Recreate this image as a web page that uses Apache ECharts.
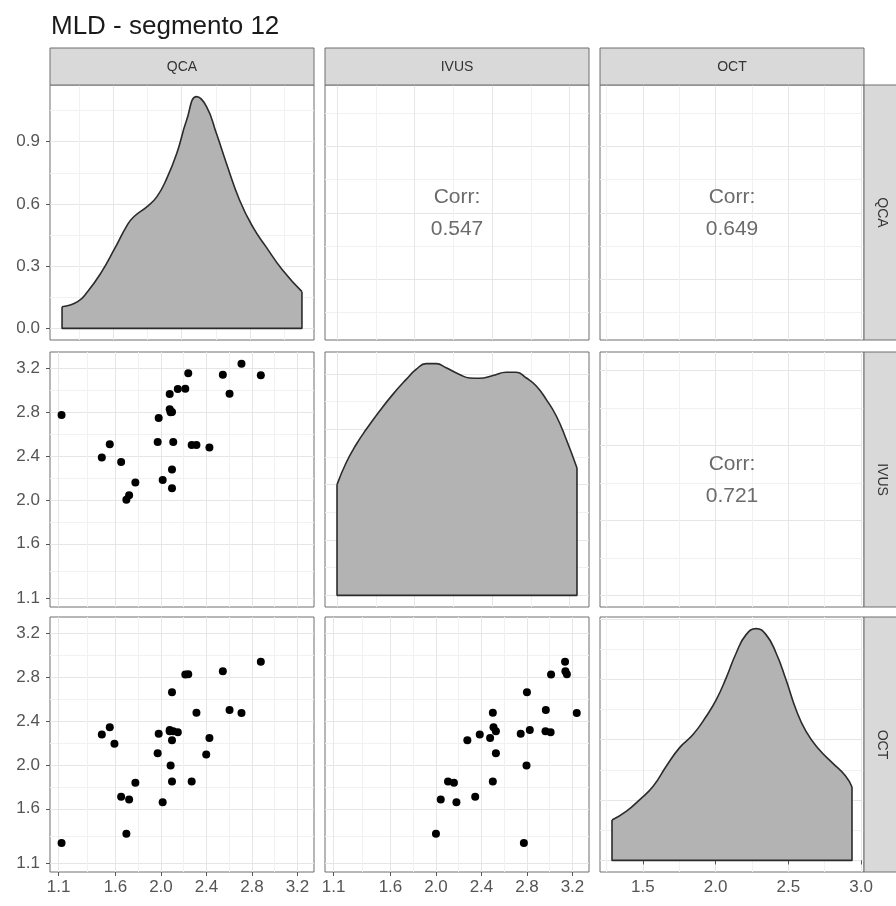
<!DOCTYPE html>
<html>
<head>
<meta charset="utf-8">
<title>MLD - segmento 12</title>
<script src="https://cdn.jsdelivr.net/npm/echarts@6/dist/echarts.min.js"></script>
<style>
html, body { margin: 0; padding: 0; background: #fff; }
#chart { width: 896px; height: 906px; }
</style>
</head>
<body>
<div id="chart"></div>
<script>
// MLD segmento 12 - ggpairs style matrix (QCA / IVUS / OCT)
const varNames = ['QCA', 'IVUS', 'OCT'];

// one entry per lesion, null = missing
const QCA  = [1.126, 1.696, 2.015, 1.720, 1.650, 1.775, 2.097, 2.270, 2.085, 2.398, 1.971, 1.591, 2.097, 2.426, 1.480,
              1.980, 2.148, 2.108, 2.077, 2.077, 1.550, 2.708, 2.312, 2.603, 2.097, 2.214, 2.240, 2.544, 2.878];
const IVUS = [2.773, 2.000, 2.180, 2.042, 2.345, 2.158, 2.106, 2.500, 2.796, null, 2.527, null, 2.276, 2.476, 2.385,
              2.745, 3.008, 2.527, 2.963, 2.825, 2.506, 3.238, 2.500, 2.966, 2.800, 3.012, 3.151, 3.138, 3.135];
const OCT  = [1.288, 1.373, 1.659, 1.684, 1.709, 1.836, 1.848, 1.848, 1.993, 2.094, 2.106, 2.191, 2.224, 2.245, 2.275,
              2.282, 2.297, 2.306, 2.306, 2.318, 2.342, 2.471, 2.473, 2.500, 2.661, 2.821, 2.824, 2.852, 2.938];

// density curves on the diagonal
const qcaDensX = [1.126, 1.240, 1.312, 1.408, 1.505, 1.602, 1.650, 1.747, 1.819, 1.891, 1.964,
                  2.036, 2.109, 2.181, 2.253, 2.326, 2.422, 2.518, 2.615, 2.736, 2.878];
const qcaDensY = [0.104, 0.129, 0.177, 0.265, 0.378, 0.498, 0.538, 0.587, 0.635, 0.723, 0.844,
                  1.004, 1.117, 1.069, 0.940, 0.796, 0.619, 0.490, 0.394, 0.281, 0.177];
const ivusDensX = [2.000, 2.047, 2.098, 2.150, 2.219, 2.288, 2.357, 2.408, 2.460, 2.512, 2.563, 2.632,
                   2.684, 2.735, 2.805, 2.873, 2.925, 2.977, 3.028, 3.080, 3.132, 3.183, 3.238];
const ivusDensY = [0.400, 0.479, 0.544, 0.599, 0.665, 0.726, 0.780, 0.816, 0.837, 0.837, 0.822, 0.798,
                   0.785, 0.784, 0.794, 0.806, 0.806, 0.785, 0.756, 0.707, 0.647, 0.563, 0.460];
const octDensX = [1.288, 1.388, 1.479, 1.571, 1.662, 1.753, 1.845, 1.936, 2.005, 2.073, 2.142,
                  2.210, 2.279, 2.347, 2.416, 2.484, 2.553, 2.621, 2.712, 2.803, 2.895, 2.938];
const octDensY = [0.167, 0.204, 0.252, 0.307, 0.391, 0.467, 0.521, 0.597, 0.666, 0.756, 0.859,
                  0.935, 0.960, 0.935, 0.859, 0.749, 0.625, 0.535, 0.459, 0.404, 0.349, 0.304];

// correlations in the upper triangle
const corrQcaIvus = '0.547';
const corrQcaOct  = '0.649';
const corrIvusOct = '0.721';

// tick / grid values
const scatterTicks = [1.1, 1.6, 2.0, 2.4, 2.8, 3.2];
const scatterMinor = [1.35, 1.8, 2.2, 2.6, 3.0];
const qcaTicks = [1.5, 2.0, 2.5];
const qcaMinor = [1.25, 1.75, 2.25, 2.75];
const ivusTicks = [2.0, 2.4, 2.8, 3.2];
const ivusMinor = [2.2, 2.6, 3.0];
const octTicks = [1.5, 2.0, 2.5, 3.0];
const octMinor = [1.25, 1.75, 2.25, 2.75];
const qcaDensTicks = [0.0, 0.3, 0.6, 0.9];
const qcaDensMinor = [0.15, 0.45, 0.75, 1.05];
const ivusDensTicks = [0.0, 0.2, 0.4, 0.6, 0.8];
const ivusDensMinor = [0.1, 0.3, 0.5, 0.7];
const octDensTicks = [0.0, 0.25, 0.5, 0.75, 1.0];
const octDensMinor = [0.125, 0.375, 0.625, 0.875];

// scale ranges (ggplot 5% expansion)
const scatRange = [1.0245, 3.3455];
const qcaRange = [1.038, 2.966];
const ivusRange = [1.938, 3.300];
const octRange = [1.2055, 3.0205];
const qcaDensRange = [-0.056, 1.173];
const ivusDensRange = [-0.042, 0.879];
const octDensRange = [-0.048, 1.008];

// layout
const colLeft = [50, 325, 600];
const colW = 264;
const rowTop = [85, 352, 617];
const rowH = 255;
const fontFam = '"Liberation Sans", Arial, Helvetica, sans-serif';

const sc = { range: scatRange, major: scatterTicks, minor: scatterMinor };
const qc = { range: qcaRange, major: qcaTicks, minor: qcaMinor };
const iv = { range: ivusRange, major: ivusTicks, minor: ivusMinor };
const oc = { range: octRange, major: octTicks, minor: octMinor };
const qd = { range: qcaDensRange, major: qcaDensTicks, minor: qcaDensMinor };
const idn = { range: ivusDensRange, major: ivusDensTicks, minor: ivusDensMinor };
const od = { range: octDensRange, major: octDensTicks, minor: octDensMinor };

// [row][col] -> x scale, y scale
const panels = [
  [{ x: qc, y: qd }, { x: iv, y: qc }, { x: oc, y: qc }],
  [{ x: sc, y: sc }, { x: iv, y: idn }, { x: oc, y: iv }],
  [{ x: sc, y: sc }, { x: sc, y: sc }, { x: oc, y: od }]
];

const grids = [], xAxes = [], yAxes = [], series = [], graphics = [];

function makeAxes(g, s, showLab, isX) {
  const base = { gridIndex: g, type: 'value', min: s.range[0], max: s.range[1], axisLine: { show: false } };
  const major = Object.assign({}, base, {
    position: isX ? 'bottom' : 'left',
    axisTick: { show: showLab, length: 4, customValues: s.major, lineStyle: { color: '#555' } },
    axisLabel: {
      show: showLab, customValues: s.major, formatter: v => v.toFixed(1),
      color: '#555', fontSize: 17, fontFamily: fontFam, margin: isX ? 7 : 10
    },
    splitLine: { show: true, lineStyle: { color: '#e6e6e6', width: 1 } }
  });
  const minor = Object.assign({}, base, {
    position: isX ? 'top' : 'right',
    axisTick: { show: false, customValues: s.minor },
    axisLabel: { show: false },
    splitLine: { show: true, lineStyle: { color: '#f1f1f1', width: 1 } }
  });
  return [major, minor];
}

for (let r = 0; r < 3; r++) {
  for (let c = 0; c < 3; c++) {
    const g = r * 3 + c;
    grids.push({
      left: colLeft[c], top: rowTop[r], width: colW, height: rowH,
      show: true, backgroundColor: '#fff', borderColor: '#6e6e6e', borderWidth: 1,
      containLabel: false, outerBoundsMode: 'none'
    });
    xAxes.push(...makeAxes(g, panels[r][c].x, r === 2, true));
    yAxes.push(...makeAxes(g, panels[r][c].y, c === 0, false));
  }
}

function densSeries(g, xs, ys) {
  const pts = xs.map((x, i) => [x, ys[i]]);
  const n = xs.length - 1;
  series.push({
    type: 'line', xAxisIndex: 2 * g, yAxisIndex: 2 * g, data: pts,
    smooth: 0.5, symbol: 'none', silent: true,
    lineStyle: { color: '#2b2b2b', width: 1.6 },
    areaStyle: { color: '#b3b3b3', opacity: 1 }
  });
  // closed outline: right edge, baseline, left edge
  series.push({
    type: 'line', xAxisIndex: 2 * g, yAxisIndex: 2 * g, symbol: 'none', silent: true,
    data: [[xs[n], ys[n]], [xs[n], 0], [xs[0], 0], [xs[0], ys[0]]],
    lineStyle: { color: '#2b2b2b', width: 1.6 }
  });
}

function scatterSeries(g, xs, ys) {
  const pts = xs.map((x, i) => [x, ys[i]]).filter(p => p[0] != null && p[1] != null);
  series.push({
    type: 'scatter', xAxisIndex: 2 * g, yAxisIndex: 2 * g, data: pts,
    symbolSize: 8, silent: true, itemStyle: { color: '#000', opacity: 1 }
  });
}

densSeries(0, qcaDensX, qcaDensY);
densSeries(4, ivusDensX, ivusDensY);
densSeries(8, octDensX, octDensY);
scatterSeries(3, QCA, IVUS);
scatterSeries(6, QCA, OCT);
scatterSeries(7, IVUS, OCT);

// correlation text
[[0, 1, corrQcaIvus], [0, 2, corrQcaOct], [1, 2, corrIvusOct]].forEach(([r, c, v]) => {
  graphics.push({
    type: 'text', z: 100, x: colLeft[c] + colW / 2, y: rowTop[r] + rowH / 2 + 1,
    style: {
      text: 'Corr:\n' + v, align: 'center', verticalAlign: 'middle',
      fontSize: 21, lineHeight: 32, fontFamily: fontFam, fill: '#6b6b6b'
    }
  });
});

// facet strips
for (let c = 0; c < 3; c++) {
  graphics.push({
    type: 'rect', z: 100, shape: { x: colLeft[c], y: 48, width: colW, height: 37 },
    style: { fill: '#d9d9d9', stroke: '#6e6e6e', lineWidth: 1 }
  });
  graphics.push({
    type: 'text', z: 101, x: colLeft[c] + colW / 2, y: 67,
    style: { text: varNames[c], align: 'center', verticalAlign: 'middle', fontSize: 14, fontFamily: fontFam, fill: '#333' }
  });
}
for (let r = 0; r < 3; r++) {
  graphics.push({
    type: 'rect', z: 100, shape: { x: 864, y: rowTop[r], width: 40, height: rowH },
    style: { fill: '#d9d9d9', stroke: '#6e6e6e', lineWidth: 1 }
  });
  graphics.push({
    type: 'text', z: 101, x: 882, y: rowTop[r] + rowH / 2, rotation: -Math.PI / 2,
    style: { text: varNames[r], align: 'center', verticalAlign: 'middle', fontSize: 14, fontFamily: fontFam, fill: '#333' }
  });
}

const chart = echarts.init(document.getElementById('chart'));
chart.setOption({
  animation: false,
  backgroundColor: '#fff',
  title: {
    text: 'MLD - segmento 12', left: 46, top: 9,
    textStyle: { fontSize: 26, fontWeight: 'normal', color: '#1a1a1a', fontFamily: fontFam }
  },
  grid: grids,
  xAxis: xAxes,
  yAxis: yAxes,
  series: series,
  graphic: graphics
});
</script>
</body>
</html>
